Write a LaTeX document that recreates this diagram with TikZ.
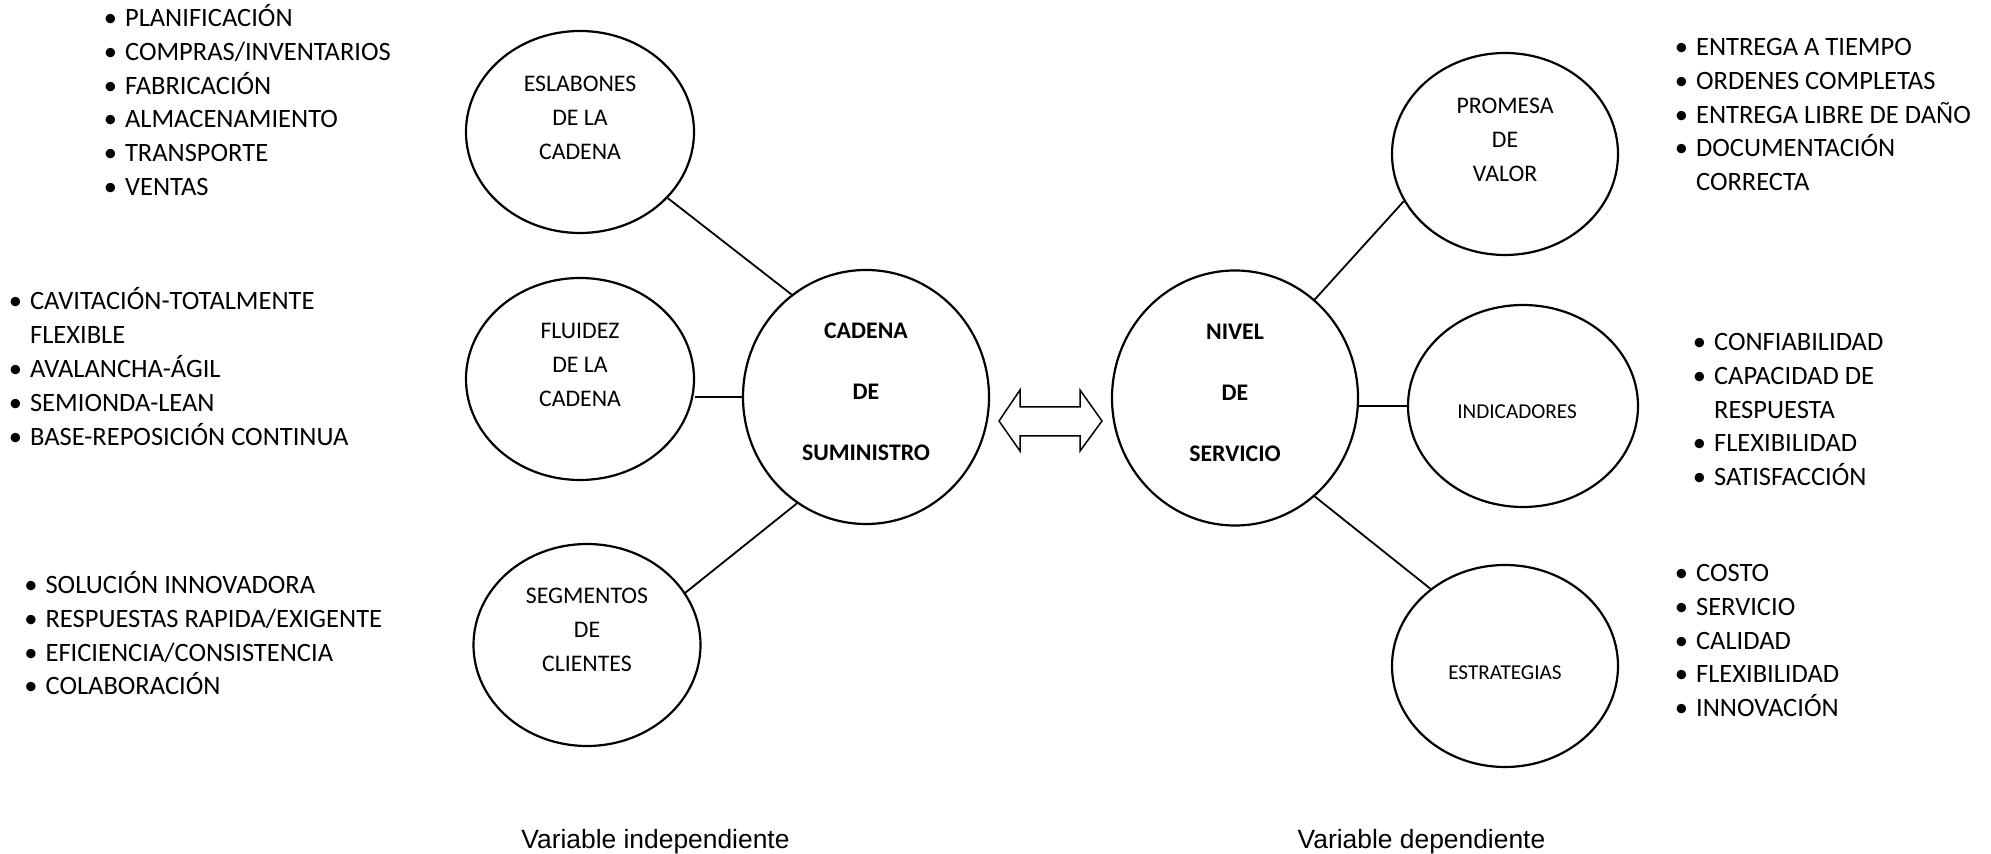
\documentclass[tikz,border=0pt]{standalone}
\usepackage{fontspec}
\setmainfont{Carlito}
\newfontfamily\arial{Liberation Sans}
\usetikzlibrary{shapes.geometric}

\begin{document}
\begin{tikzpicture}[
        x=0.5pt, y=-0.5pt,
        burbuja/.style={ellipse, draw, line width=1.1pt, minimum width=114pt, minimum height=101pt},
        rotulo/.style={align=center, inner sep=0pt, font=\fontsize{11.9}{17}\selectfont},
        central/.style={align=center, inner sep=0pt, font=\fontsize{11.9}{30.5}\selectfont\bfseries},
        lista/.style={anchor=base west, inner sep=0pt, font=\fontsize{13.25}{16.9}\selectfont},
        enlace/.style={line width=0.9pt},
        pie/.style={anchor=base, inner sep=0pt, font=\arial\fontsize{13.2}{16}\selectfont}
    ]
    \useasboundingbox (0,0) rectangle (1991,854);

    % variable independiente
    \node[burbuja, minimum width=123pt, minimum height=127pt] (cadena) at (866,397) {};
    \node[central] (txt-cadena) at ([yshift=2.5pt]cadena.center) {CADENA\\DE\\SUMINISTRO};

    \node[burbuja] (eslabones) at (580,132) {};
    \node[rotulo] (txt-eslabones) at ([yshift=7pt]eslabones.center) {ESLABONES\\DE LA\\CADENA};
    \node[burbuja] (fluidez) at (580,379) {};
    \node[rotulo] (txt-fluidez) at ([yshift=7pt]fluidez.center) {FLUIDEZ\\DE LA\\CADENA};
    \node[burbuja, minimum width=113.5pt] (segmentos) at (587,645) {};
    \node[rotulo] (txt-segmentos) at ([yshift=7.5pt]segmentos.center) {SEGMENTOS\\DE\\CLIENTES};

    \draw[enlace] (eslabones.-37) -- (cadena.126);
    \draw[enlace] (cadena.west) -- (cadena.west -| fluidez.east);
    \draw[enlace] (segmentos.28) -- (cadena.-123);

    % variable dependiente
    \node[burbuja, minimum width=123pt, minimum height=127.5pt] (nivel) at (1235,398) {};
    \node[central] (txt-nivel) at ([yshift=2.5pt]nivel.center) {NIVEL\\DE\\SERVICIO};

    \node[burbuja, minimum width=113pt] (promesa) at (1505,154) {};
    \node[rotulo] (txt-promesa) at ([yshift=7pt]promesa.center) {PROMESA\\DE\\VALOR};
    \node[burbuja, minimum width=115pt] (indicadores) at (1523,406) {};
    \node[rotulo, font=\fontsize{10.6}{14}\selectfont] (txt-indicadores) at ([xshift=-3pt,yshift=-3pt]indicadores.center) {INDICADORES};
    \node[burbuja, minimum width=113pt] (estrategias) at (1505,666) {};
    \node[rotulo, font=\fontsize{10.6}{14}\selectfont] (txt-estrategias) at ([yshift=-3.5pt]estrategias.center) {ESTRATEGIAS};

    \draw[enlace] (nivel.51) -- (promesa.205);
    \draw[enlace] (indicadores.west) -- (indicadores.west -| nivel.east);
    \draw[enlace] (nivel.-51.5) -- (estrategias.134);

    % doble flecha
    \draw[line width=0.75pt] (999,421) -- (1020,390) -- (1020,407) -- (1080,407) -- (1080,390)
        -- (1102,421) -- (1080,451) -- (1080,436) -- (1020,436) -- (1020,451) -- cycle;

    % listas
    \node[lista] (l-eslabones) at (103.5,26.5) {\begin{tabular}[t]{@{}l@{\hspace{4pt}}l@{}}
        \textbullet & PLANIFICACIÓN\\
        \textbullet & COMPRAS/INVENTARIOS\\
        \textbullet & FABRICACIÓN\\
        \textbullet & ALMACENAMIENTO\\
        \textbullet & TRANSPORTE\\
        \textbullet & VENTAS
    \end{tabular}};
    \node[lista] (l-fluidez) at (8.5,310) {\begin{tabular}[t]{@{}l@{\hspace{4pt}}l@{}}
        \textbullet & CAVITACIÓN-TOTALMENTE\\
                    & FLEXIBLE\\
        \textbullet & AVALANCHA-ÁGIL\\
        \textbullet & SEMIONDA-LEAN\\
        \textbullet & BASE-REPOSICIÓN CONTINUA
    \end{tabular}};
    \node[lista] (l-segmentos) at (24,593.5) {\begin{tabular}[t]{@{}l@{\hspace{4pt}}l@{}}
        \textbullet & SOLUCIÓN INNOVADORA\\
        \textbullet & RESPUESTAS RAPIDA/EXIGENTE\\
        \textbullet & EFICIENCIA/CONSISTENCIA\\
        \textbullet & COLABORACIÓN
    \end{tabular}};
    \node[lista] (l-promesa) at (1674.5,55.5) {\begin{tabular}[t]{@{}l@{\hspace{4pt}}l@{}}
        \textbullet & ENTREGA A TIEMPO\\
        \textbullet & ORDENES COMPLETAS\\
        \textbullet & ENTREGA LIBRE DE DAÑO\\
        \textbullet & DOCUMENTACIÓN\\
                    & CORRECTA
    \end{tabular}};
    \node[lista] (l-indicadores) at (1692.5,350.5) {\begin{tabular}[t]{@{}l@{\hspace{4pt}}l@{}}
        \textbullet & CONFIABILIDAD\\
        \textbullet & CAPACIDAD DE\\
                    & RESPUESTA\\
        \textbullet & FLEXIBILIDAD\\
        \textbullet & SATISFACCIÓN
    \end{tabular}};
    \node[lista] (l-estrategias) at (1674.5,581.5) {\begin{tabular}[t]{@{}l@{\hspace{4pt}}l@{}}
        \textbullet & COSTO\\
        \textbullet & SERVICIO\\
        \textbullet & CALIDAD\\
        \textbullet & FLEXIBILIDAD\\
        \textbullet & INNOVACIÓN
    \end{tabular}};

    % pies
    \node[pie] (indep) at (655.5,848) {Variable independiente};
    \node[pie] (dep) at (1421.5,848) {Variable dependiente};
\end{tikzpicture}
\end{document}
